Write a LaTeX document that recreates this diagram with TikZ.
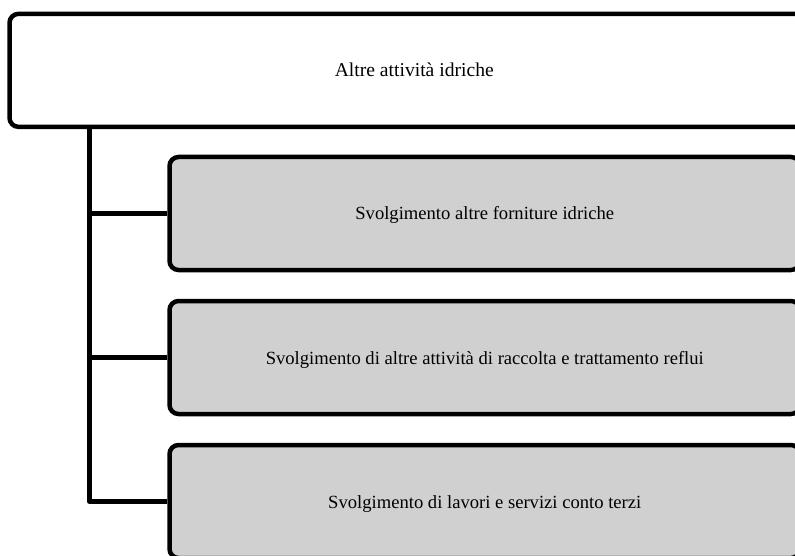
\documentclass[tikz,border=0pt]{standalone}
\usepackage{fontspec}
\setmainfont{Liberation Serif}
\usetikzlibrary{backgrounds}
\definecolor{boxgray}{RGB}{208,208,208}
\begin{document}
\begin{tikzpicture}[x=1pt,y=-1pt,
  basebox/.style={draw=black, line width=4.5pt, rounded corners=9pt,
    minimum height=113pt, inner sep=0pt, text height=13pt, text depth=0pt},
  topbox/.style={basebox, fill=white, minimum width=809.5pt,
    font=\fontsize{19.6}{23}\selectfont},
  childbox/.style={basebox, fill=boxgray, minimum width=630.5pt,
    font=\fontsize{18.6}{22}\selectfont},
  conn/.style={draw=black, line width=5pt, line join=round}]
\useasboundingbox (0,0) rectangle (795,556);
\clip (0,0) rectangle (795,556);
\coordinate (trunk) at (89.5,0);
\node[topbox] (top) at (414.25,70.35) {Altre attività idriche};
\node[childbox] (b1) at (484.75,213.5) {Svolgimento altre forniture idriche};
\node[childbox] (b2) at (484.75,357.5) {Svolgimento di altre attività di raccolta e trattamento reflui};
\node[childbox] (b3) at (484.75,501.5) {Svolgimento di lavori e servizi conto terzi};
\begin{scope}[on background layer]
\fill[white] (0,0) rectangle (795,556);
\draw[conn] (trunk |- top.south) -- (trunk |- b3.west) -- (b3.west);
\draw[conn] (trunk |- b1.west) -- (b1.west);
\draw[conn] (trunk |- b2.west) -- (b2.west);
\end{scope}
\end{tikzpicture}
\end{document}
